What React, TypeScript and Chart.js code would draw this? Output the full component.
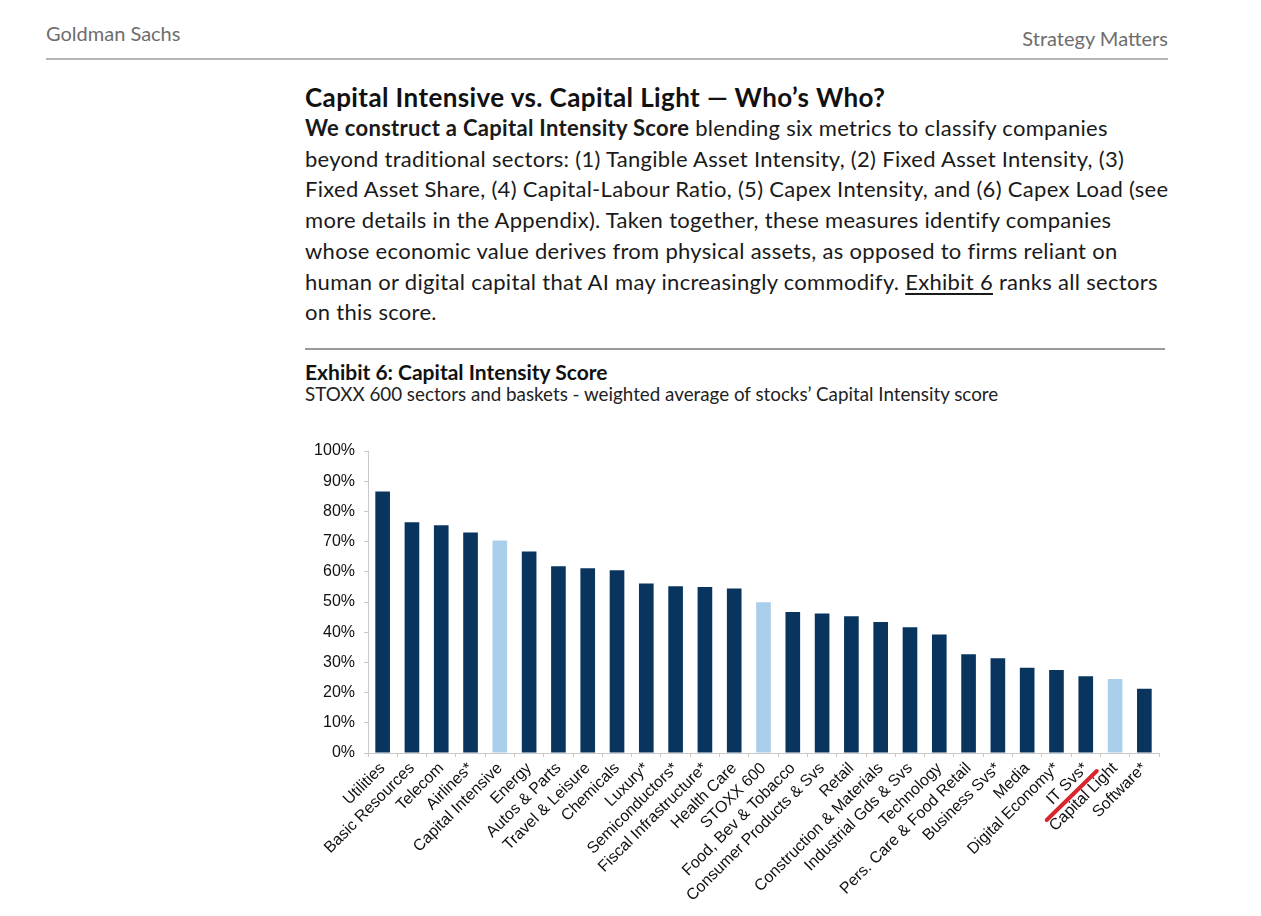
import React, { useEffect, useRef } from "react";
import { Chart, registerables } from "chart.js";

Chart.register(...registerables);

// Sector / basket names in ranked order
const categories: string[] = [
  "Utilities",
  "Basic Resources",
  "Telecom",
  "Airlines*",
  "Capital Intensive",
  "Energy",
  "Autos & Parts",
  "Travel & Leisure",
  "Chemicals",
  "Luxury*",
  "Semiconductors*",
  "Fiscal Infrastructure*",
  "Health Care",
  "STOXX 600",
  "Food, Bev & Tobacco",
  "Consumer Products & Svs",
  "Retail",
  "Construction & Materials",
  "Industrial Gds & Svs",
  "Technology",
  "Pers. Care & Food Retail",
  "Business Svs*",
  "Media",
  "Digital Economy*",
  "IT Svs*",
  "Capital Light",
  "Software*",
];

// Weighted average Capital Intensity score, in percent
const scores: number[] = [
  86.6, 76.4, 75.4, 73.0, 70.4, 66.7, 61.8, 61.2, 60.5, 56.1, 55.2, 55.0, 54.5,
  49.9, 46.7, 46.2, 45.3, 43.4, 41.6, 39.2, 32.7, 31.4, 28.2, 27.5, 25.4, 24.5,
  21.3,
];

// Aggregate baskets shown in the lighter shade
const baskets: string[] = ["Capital Intensive", "STOXX 600", "Capital Light"];

// Label crossed out with a red stroke
const struckLabel = "IT Svs*";

const yTicks: number[] = [0, 10, 20, 30, 40, 50, 60, 70, 80, 90, 100];

const NAVY = "#08345e";
const LIGHT = "#a9cfea";
const AXIS = "#c9c9c9";

const strikePlugin = {
  id: "strikeLabel",
  afterDraw(chart: any) {
    const idx = categories.indexOf(struckLabel);
    if (idx < 0) return;
    const x = chart.scales.x.getPixelForValue(idx);
    const base = chart.scales.x.top;
    const ctx = chart.ctx;
    ctx.save();
    ctx.strokeStyle = "#d8262c";
    ctx.lineWidth = 4;
    ctx.lineCap = "round";
    ctx.beginPath();
    ctx.moveTo(x - 39, base + 67);
    ctx.lineTo(x + 11, base + 18);
    ctx.stroke();
    ctx.restore();
  },
};

function CapitalIntensityChart() {
  const ref = useRef<HTMLCanvasElement | null>(null);

  useEffect(() => {
    if (!ref.current) return;
    const chart = new Chart(ref.current, {
      type: "bar",
      data: {
        labels: categories,
        datasets: [
          {
            data: scores,
            backgroundColor: categories.map((c) =>
              baskets.includes(c) ? LIGHT : NAVY
            ),
            categoryPercentage: 1,
            barPercentage: 0.5,
          },
        ],
      },
      options: {
        animation: false,
        responsive: false,
        devicePixelRatio: 1,
        layout: { padding: { top: 21, right: 21, left: 0, bottom: 0 } },
        plugins: {
          legend: { display: false },
          tooltip: { enabled: false },
        },
        scales: {
          x: {
            offset: true,
            grid: {
              offset: true,
              drawOnChartArea: false,
              drawTicks: true,
              tickLength: 4,
              color: AXIS,
            },
            border: { color: AXIS },
            ticks: {
              autoSkip: false,
              minRotation: 45,
              maxRotation: 45,
              padding: 2,
              color: "#111",
              font: { family: "'Liberation Sans', Arial, sans-serif", size: 16 },
            },
            afterFit: (s: any) => {
              s.height = 163;
            },
          },
          y: {
            min: 0,
            max: 100,
            afterBuildTicks: (s: any) => {
              s.ticks = yTicks.map((v) => ({ value: v }));
            },
            grid: {
              drawOnChartArea: false,
              drawTicks: true,
              tickLength: 4,
              color: AXIS,
            },
            border: { color: AXIS },
            ticks: {
              padding: 9,
              color: "#111",
              font: { family: "'Liberation Sans', Arial, sans-serif", size: 16 },
              callback: (v: any) => `${v}%`,
            },
            afterFit: (s: any) => {
              s.width = 78;
            },
          },
        },
      },
      plugins: [strikePlugin],
    });
    return () => chart.destroy();
  }, []);

  return (
    <canvas
      ref={ref}
      width={890}
      height={486}
      style={{ position: "absolute", left: 290, top: 430, width: 890, height: 486 }}
    />
  );
}

const SANS = "Lato, 'Open Sans', sans-serif";

const bodyLines: React.ReactNode[] = [
  <>
    <b>We construct a Capital Intensity Score</b> blending six metrics to classify companies
  </>,
  <>beyond traditional sectors: (1) Tangible Asset Intensity, (2) Fixed Asset Intensity, (3)</>,
  <>Fixed Asset Share, (4) Capital-Labour Ratio, (5) Capex Intensity, and (6) Capex Load (see</>,
  <>more details in the Appendix). Taken together, these measures identify companies</>,
  <>whose economic value derives from physical assets, as opposed to firms reliant on</>,
  <>
    human or digital capital that AI may increasingly commodify.{" "}
    <span style={{ textDecoration: "underline", textUnderlineOffset: 3 }}>Exhibit 6</span> ranks all sectors
  </>,
  <>on this score.</>,
];

export default function App() {
  return (
    <div
      style={{
        position: "fixed",
        left: 0,
        top: 0,
        width: 1261,
        height: 916,
        overflow: "hidden",
        background: "#fff",
        fontFamily: SANS,
        color: "#1c1c1c",
      }}
    >
      <div
        style={{
          position: "absolute",
          left: 46,
          top: 21,
          fontSize: 20,
          lineHeight: "24px",
          color: "#6d6d6d",
          whiteSpace: "nowrap",
        }}
      >
        Goldman Sachs
      </div>
      <div
        style={{
          position: "absolute",
          right: 1261 - 1168,
          top: 26,
          fontSize: 20,
          lineHeight: "24px",
          color: "#6d6d6d",
          whiteSpace: "nowrap",
        }}
      >
        Strategy Matters
      </div>
      <div style={{ position: "absolute", left: 46, top: 58, width: 1122, height: 2, background: "#b5b5b5" }} />

      <div
        style={{
          position: "absolute",
          left: 305,
          top: 81,
          fontSize: 26,
          lineHeight: "32px",
          letterSpacing: "0.4px",
          fontWeight: 700,
          color: "#111",
          whiteSpace: "nowrap",
        }}
      >
        Capital Intensive vs. Capital Light — Who’s Who?
      </div>

      <div
        style={{
          position: "absolute",
          left: 305,
          top: 113,
          fontSize: 22,
          letterSpacing: "0.3px",
          lineHeight: "30.7px",
          color: "#1a1a1a",
        }}
      >
        {bodyLines.map((l, i) => (
          <div key={i} style={{ whiteSpace: "nowrap" }}>
            {l}
          </div>
        ))}
      </div>

      <div style={{ position: "absolute", left: 305, top: 348, width: 860, height: 1.5, background: "#9a9a9a" }} />

      <div
        style={{
          position: "absolute",
          left: 305,
          top: 359,
          fontSize: 21,
          lineHeight: "25px",
          fontWeight: 700,
          color: "#111",
          whiteSpace: "nowrap",
        }}
      >
        Exhibit 6: Capital Intensity Score
      </div>
      <div
        style={{
          position: "absolute",
          left: 305,
          top: 382,
          fontSize: 18.8,
          lineHeight: "23px",
          color: "#222",
          whiteSpace: "nowrap",
        }}
      >
        STOXX 600 sectors and baskets - weighted average of stocks’ Capital Intensity score
      </div>

      <CapitalIntensityChart />
    </div>
  );
}
